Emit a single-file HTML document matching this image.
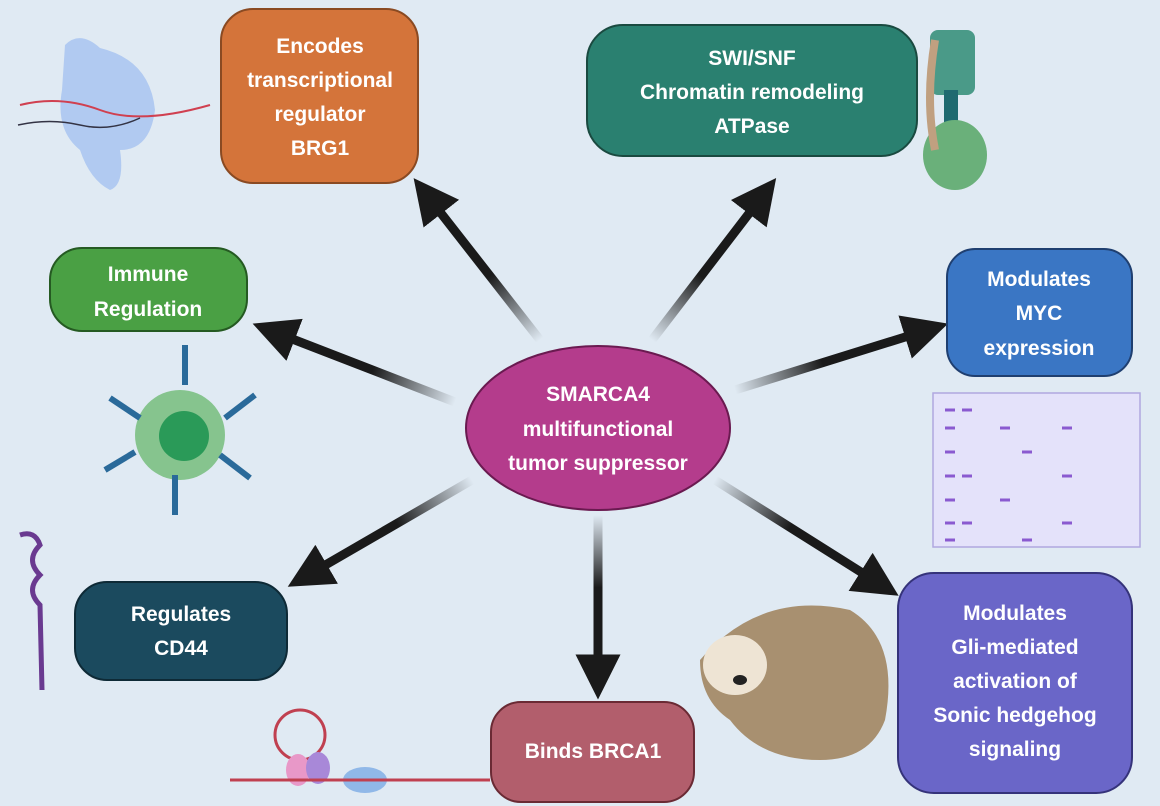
<!DOCTYPE html><html><head><meta charset="utf-8"><style>
html,body{margin:0;padding:0;width:1160px;height:806px;overflow:hidden;background:#e0eaf3}
svg{display:block}
text{font-family:"Liberation Sans",sans-serif;font-weight:bold;fill:#fff;text-anchor:middle;font-size:21px}
</style></head><body>
<svg width="1160" height="806" viewBox="0 0 1160 806">
<defs>
<marker id="ah" markerWidth="5" markerHeight="5" refX="1.5" refY="2.5" orient="auto" markerUnits="strokeWidth"><path d="M0,0 L5,2.5 L0,5 z" fill="#1a1a1a"/></marker>
<linearGradient id="g1" gradientUnits="userSpaceOnUse" x1="540" y1="340" x2="440" y2="212"><stop offset="0" stop-color="#1a1a1a" stop-opacity="0"/><stop offset="0.5" stop-color="#1a1a1a"/></linearGradient>
<linearGradient id="g2" gradientUnits="userSpaceOnUse" x1="652" y1="340" x2="750" y2="212"><stop offset="0" stop-color="#1a1a1a" stop-opacity="0"/><stop offset="0.5" stop-color="#1a1a1a"/></linearGradient>
<linearGradient id="g3" gradientUnits="userSpaceOnUse" x1="455" y1="402" x2="290" y2="338"><stop offset="0" stop-color="#1a1a1a" stop-opacity="0"/><stop offset="0.5" stop-color="#1a1a1a"/></linearGradient>
<linearGradient id="g4" gradientUnits="userSpaceOnUse" x1="735" y1="390" x2="910" y2="336"><stop offset="0" stop-color="#1a1a1a" stop-opacity="0"/><stop offset="0.5" stop-color="#1a1a1a"/></linearGradient>
<linearGradient id="g5" gradientUnits="userSpaceOnUse" x1="472" y1="480" x2="322" y2="567"><stop offset="0" stop-color="#1a1a1a" stop-opacity="0"/><stop offset="0.5" stop-color="#1a1a1a"/></linearGradient>
<linearGradient id="g6" gradientUnits="userSpaceOnUse" x1="598" y1="515" x2="598" y2="660"><stop offset="0" stop-color="#1a1a1a" stop-opacity="0"/><stop offset="0.5" stop-color="#1a1a1a"/></linearGradient>
<linearGradient id="g7" gradientUnits="userSpaceOnUse" x1="715" y1="480" x2="865" y2="575"><stop offset="0" stop-color="#1a1a1a" stop-opacity="0"/><stop offset="0.5" stop-color="#1a1a1a"/></linearGradient>
</defs>
<g stroke-width="9" fill="none" marker-end="url(#ah)">
<line x1="540" y1="340" x2="433" y2="203" stroke="url(#g1)"/>
<line x1="652" y1="340" x2="757" y2="203" stroke="url(#g2)"/>
<line x1="455" y1="402" x2="282" y2="335" stroke="url(#g3)"/>
<line x1="735" y1="390" x2="918" y2="333" stroke="url(#g4)"/>
<line x1="472" y1="480" x2="315" y2="571" stroke="url(#g5)"/>
<line x1="598" y1="515" x2="598" y2="668" stroke="url(#g6)"/>
<line x1="715" y1="480" x2="872" y2="579" stroke="url(#g7)"/>
</g>
<!-- boxes -->
<rect x="221" y="9" width="197" height="174" rx="32" fill="#d4743a" stroke="#8a4a22" stroke-width="2"/>
<text x="320" y="53">Encodes</text><text x="320" y="87">transcriptional</text><text x="320" y="121">regulator</text><text x="320" y="155">BRG1</text>
<rect x="587" y="25" width="330" height="131" rx="36" fill="#2a8070" stroke="#1a4a40" stroke-width="2"/>
<text x="752" y="65">SWI/SNF</text><text x="752" y="99">Chromatin remodeling</text><text x="752" y="133">ATPase</text>
<rect x="50" y="248" width="197" height="83" rx="32" fill="#4aa044" stroke="#255a22" stroke-width="2"/>
<text x="148" y="281">Immune</text><text x="148" y="316">Regulation</text>
<rect x="947" y="249" width="185" height="127" rx="28" fill="#3a76c4" stroke="#1f3f70" stroke-width="2"/>
<text x="1039" y="286">Modulates</text><text x="1039" y="320">MYC</text><text x="1039" y="355">expression</text>
<rect x="75" y="582" width="212" height="98" rx="32" fill="#1b4a5e" stroke="#0e2a36" stroke-width="2"/>
<text x="181" y="621">Regulates</text><text x="181" y="655">CD44</text>
<rect x="491" y="702" width="203" height="100" rx="30" fill="#b25e6c" stroke="#6a2a34" stroke-width="2"/>
<text x="593" y="758">Binds BRCA1</text>
<rect x="898" y="573" width="234" height="220" rx="36" fill="#6a66c8" stroke="#35337a" stroke-width="2"/>
<text x="1015" y="620">Modulates</text><text x="1015" y="654">Gli-mediated</text><text x="1015" y="688">activation of</text><text x="1015" y="722">Sonic hedgehog</text><text x="1015" y="756">signaling</text>
<!-- center -->
<ellipse cx="598" cy="428" rx="132" ry="82" fill="#b43c8c" stroke="#6a1a50" stroke-width="2"/>
<text x="598" y="401">SMARCA4</text><text x="598" y="436">multifunctional</text><text x="598" y="470">tumor suppressor</text>
<!-- icons -->
<path d="M65,45 Q80,30 100,48 Q150,60 155,110 Q150,150 120,150 Q125,185 110,190 Q90,180 80,150 Q55,130 62,90 Z" fill="#a8c4f0" opacity="0.85"/>
<path d="M20,105 Q60,95 100,110 T210,105" stroke="#d04050" stroke-width="2" fill="none"/>
<path d="M18,125 Q50,118 80,125 T140,118" stroke="#334" stroke-width="1.5" fill="none"/>
<rect x="930" y="30" width="45" height="65" rx="8" fill="#4a9a88"/>
<rect x="944" y="90" width="14" height="40" fill="#1f6a70"/>
<ellipse cx="955" cy="155" rx="32" ry="35" fill="#6ab07a"/>
<path d="M935,40 Q925,100 935,150" stroke="#c0a080" stroke-width="8" fill="none"/>
<circle cx="180" cy="435" r="45" fill="#86c48e"/><circle cx="184" cy="436" r="25" fill="#2a9a58"/>
<g stroke="#2a6a9a" stroke-width="6"><line x1="185" y1="345" x2="185" y2="385"/><line x1="175" y1="475" x2="175" y2="515"/><line x1="110" y1="398" x2="140" y2="418"/><line x1="225" y1="418" x2="255" y2="395"/><line x1="105" y1="470" x2="135" y2="452"/><line x1="220" y1="455" x2="250" y2="478"/></g>
<rect x="933" y="393" width="207" height="154" fill="#e4e2fa" stroke="#b0a8e0" stroke-width="1.5"/>
<g stroke="#8a5ad0" stroke-width="3"><line x1="945" y1="410" x2="955" y2="410"/><line x1="962" y1="410" x2="972" y2="410"/><line x1="945" y1="428" x2="955" y2="428"/><line x1="1000" y1="428" x2="1010" y2="428"/><line x1="1062" y1="428" x2="1072" y2="428"/><line x1="945" y1="452" x2="955" y2="452"/><line x1="1022" y1="452" x2="1032" y2="452"/><line x1="945" y1="476" x2="955" y2="476"/><line x1="962" y1="476" x2="972" y2="476"/><line x1="1062" y1="476" x2="1072" y2="476"/><line x1="945" y1="500" x2="955" y2="500"/><line x1="1000" y1="500" x2="1010" y2="500"/><line x1="945" y1="523" x2="955" y2="523"/><line x1="962" y1="523" x2="972" y2="523"/><line x1="1062" y1="523" x2="1072" y2="523"/><line x1="945" y1="540" x2="955" y2="540"/><line x1="1022" y1="540" x2="1032" y2="540"/></g>
<path d="M700,660 Q760,590 850,610 Q900,640 885,720 Q870,760 820,760 Q760,760 730,720 Q700,700 700,660 Z" fill="#a89070"/>
<ellipse cx="735" cy="665" rx="32" ry="30" fill="#eee4d4"/><ellipse cx="740" cy="680" rx="7" ry="5" fill="#222"/>
<path d="M20,535 Q35,530 40,545 Q25,560 40,575 Q25,590 40,605 L42,690" stroke="#6a3a90" stroke-width="5" fill="none"/>
<circle cx="300" cy="735" r="25" fill="none" stroke="#c04050" stroke-width="3"/>
<ellipse cx="298" cy="770" rx="12" ry="16" fill="#e898c8"/><ellipse cx="318" cy="768" rx="12" ry="16" fill="#a888d8"/>
<ellipse cx="365" cy="780" rx="22" ry="13" fill="#90b8e8"/>
<path d="M230,780 L490,780" stroke="#c04050" stroke-width="3"/>
</svg>
</body></html>
